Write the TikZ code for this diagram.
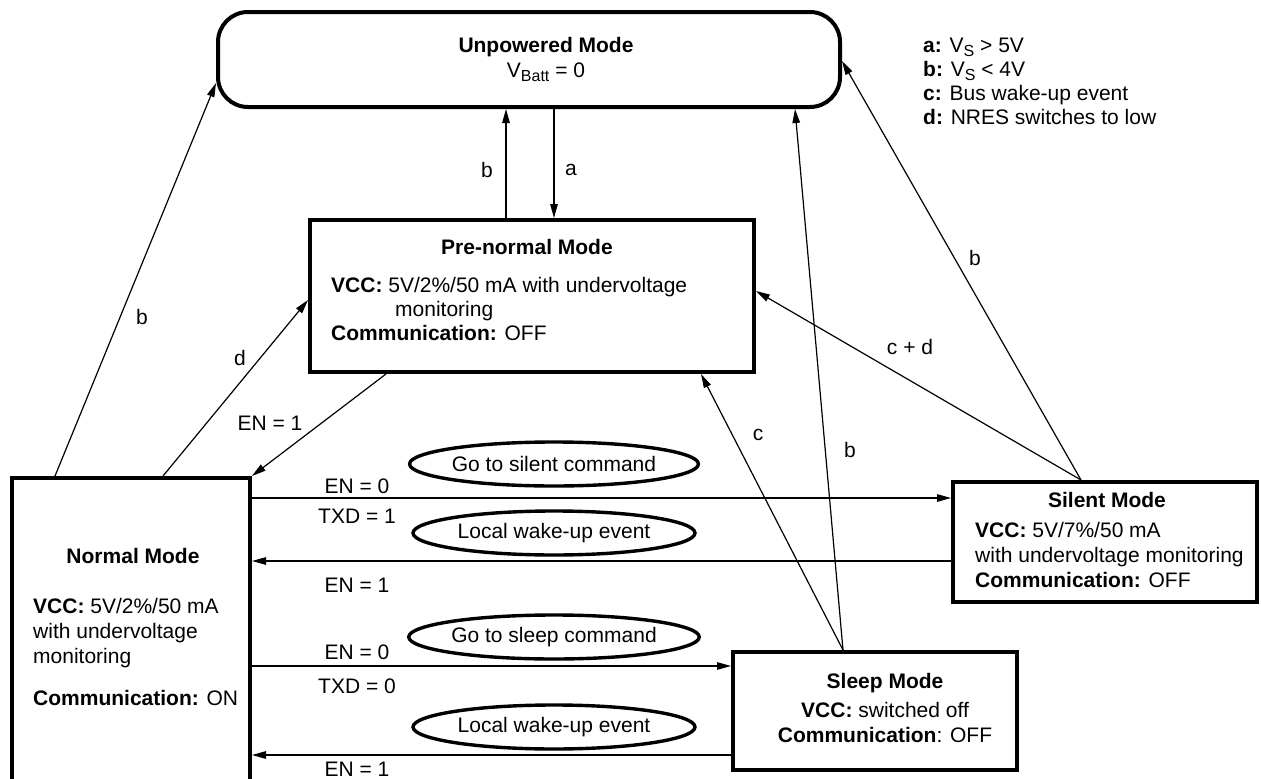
\documentclass[tikz,border=0pt]{standalone}
\usepackage{fontspec}
\setmainfont{Liberation Sans}
\usetikzlibrary{arrows.meta,shapes.geometric,calc}
\newcommand{\mysub}[1]{\raisebox{-4pt}{\fontsize{16}{16}\selectfont #1}}
\begin{document}
\begin{tikzpicture}[x=1pt,y=-1pt,
  font=\fontsize{21}{24}\selectfont,
  box/.style={draw, line width=4pt, inner sep=0pt},
  arr/.style={line width=1.2pt, -{Triangle[length=14pt,width=7.5pt]}},
  txt/.style={inner sep=0pt},
  oval/.style={ellipse, draw, line width=3.4pt, minimum width=282pt, minimum height=44pt, inner sep=0pt}]
\useasboundingbox (0,0) rectangle (1261,779);
\clip (0,0) rectangle (1261,779);
\fill[white] (0,0) rectangle (1261,779);

% boxes
\node[box, minimum width=622pt, minimum height=95pt, rounded corners=30pt] (unp) at (529,59.5) {};
\node[box, minimum width=444pt, minimum height=152pt] (pre) at (532,296) {};
\node[box, minimum width=238pt, minimum height=340pt] (normal) at (131,648) {};
\node[box, minimum width=304pt, minimum height=120pt] (silent) at (1105,542) {};
\node[box, minimum width=284pt, minimum height=118pt] (sleep) at (875,711) {};

% box texts
\node[txt, anchor=base] (unpt) at (546,52) {\textbf{Unpowered Mode}};
\node[txt, anchor=base] (unpv) at (546,77) {V\mysub{Batt} = 0};

\node[txt, anchor=base west] (lga) at (923,52.5) {\textbf{a:} V\mysub{S} > 5V};
\node[txt, anchor=base west] (lgb) at (923,76.5) {\textbf{b:} V\mysub{S} < 4V};
\node[txt, anchor=base west] (lgc) at (923,100.5) {\textbf{c:} Bus wake-up event};
\node[txt, anchor=base west] (lgd) at (923,124.5) {\textbf{d:} NRES switches to low};

\node[txt, anchor=base] (pret) at (527,254) {\textbf{Pre-normal Mode}};
\node[txt, anchor=base west] (prev) at (331,292) {\textbf{VCC:} 5V/2\%/50 mA with undervoltage};
\node[txt, anchor=base west] (prem) at (395,316) {monitoring};
\node[txt, anchor=base west] (prec) at (331,340) {\textbf{Communication:} OFF};

\node[txt, anchor=base] (normt) at (133,563) {\textbf{Normal Mode}};
\node[txt, anchor=base west] (normv) at (33,613) {\textbf{VCC:} 5V/2\%/50 mA};
\node[txt, anchor=base west] (normw) at (33,638) {with undervoltage};
\node[txt, anchor=base west] (normm) at (33,663) {monitoring};
\node[txt, anchor=base west] (normc) at (33,705) {\textbf{Communication:} ON};

\node[txt, anchor=base] (silt) at (1107,507) {\textbf{Silent Mode}};
\node[txt, anchor=base west] (silv) at (975,537) {\textbf{VCC:} 5V/7\%/50 mA};
\node[txt, anchor=base west] (silw) at (975,562) {with undervoltage monitoring};
\node[txt, anchor=base west] (silc) at (975,587) {\textbf{Communication:} OFF};

\node[txt, anchor=base] (slpt) at (885,688) {\textbf{Sleep Mode}};
\node[txt, anchor=base] (slpv) at (885,717) {\textbf{VCC:} switched off};
\node[txt, anchor=base] (slpc) at (885,742) {\textbf{Communication}: OFF};

% ovals
\node[oval] (o1) at (554,464) {Go to silent command};
\node[oval] (o2) at (554,533) {Local wake-up event};
\node[oval] (o3) at (554,637) {Go to sleep command};
\node[oval] (o4) at (554,727) {Local wake-up event};

% horizontal transitions
\draw[arr] ([yshift=-22pt]normal.north east) -- ([yshift=-18pt]silent.north west);
\draw[arr] ([yshift=-81pt]silent.north west) -- ([yshift=-85pt]normal.north east);
\draw[arr] ([yshift=-190pt]normal.north east) -- ([yshift=-16pt]sleep.north west);
\draw[arr] ([yshift=-105pt]sleep.north west) -- ([yshift=-279pt]normal.north east);

\node[txt, anchor=base] (l1) at (357,493) {EN = 0};
\node[txt, anchor=base] (l2) at (357,523) {TXD = 1};
\node[txt, anchor=base] (l3) at (357,592) {EN = 1};
\node[txt, anchor=base] (l4) at (357,659) {EN = 0};
\node[txt, anchor=base] (l5) at (357,693) {TXD = 0};
\node[txt, anchor=base] (l6) at (357,776) {EN = 1};

% diagonal / vertical transitions
\draw[arr] ([xshift=45pt]normal.north west) -- ([yshift=-73pt]unp.north west);
\draw[arr] ([xshift=153pt]normal.north west) -- ([yshift=-82pt]pre.north west);
\draw[arr] ([xshift=78pt]pre.south west) -- (normal.north east);
\draw[arr] ([xshift=198pt]pre.north west) -- ([xshift=290pt]unp.south west);
\draw[arr] ([xshift=338pt]unp.south west) -- ([xshift=246pt]pre.north west);
\draw[arr] ([xshift=112pt]sleep.north west) -- ([xshift=393pt]pre.south west);
\draw[arr] ([xshift=112pt]sleep.north west) -- ([xshift=579pt]unp.south west);
\draw[arr] ([xshift=130pt]silent.north west) -- ([yshift=-73pt]pre.north east);
\draw[arr] ([xshift=130pt]silent.north west) -- ([yshift=-51pt]unp.north east);

\node[txt] (lb1) at (142,317) {b};
\node[txt] (ld) at (240,358) {d};
\node[txt] (len) at (270,423) {EN = 1};
\node[txt] (lb2) at (487,170) {b};
\node[txt] (la) at (571,170) {a};
\node[txt] (lc) at (758,435) {c};
\node[txt] (lb3) at (850,450) {b};
\node[txt] (lcd) at (910,347) {c + d};
\node[txt] (lb4) at (975,258) {b};
\end{tikzpicture}
\end{document}
